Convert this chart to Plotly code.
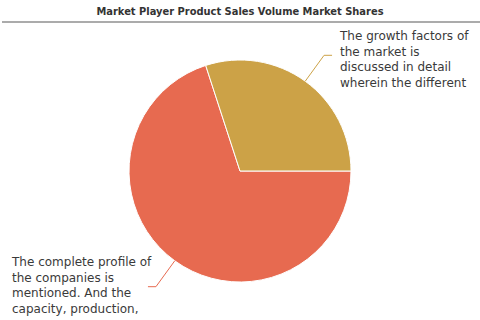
import math
import plotly.graph_objects as go

# Share of sales volume per market player
players = ["Player A", "Player B"]
shares = [70, 30]
colors = ["#e76a50", "#cca247"]
notes = [
    "The complete profile of<br>the companies is<br>mentioned. And the<br>capacity, production,",
    "The growth factors of<br>the market is<br>discussed in detail<br>wherein the different",
]
title_text = "Market Player Product Sales Volume Market Shares"

W, H = 480, 320
# pie placement (pixels)
cx, cy, R = 240, 171, 111

fig = go.Figure(go.Pie(
    labels=players,
    values=shares,
    sort=False,
    direction="clockwise",
    rotation=90,
    marker=dict(colors=colors, line=dict(color="white", width=1)),
    textinfo="none",
    hoverinfo="label+percent",
    domain=dict(x=[0, 1], y=[(H - cy - R) / H, (H - cy + R) / H]),
    showlegend=False,
))


def px_to_paper(x, y):
    return x / W, 1 - y / H


shapes = [dict(type="line", xref="paper", yref="paper",
               x0=2 / W, x1=1, y0=1 - 22 / H, y1=1 - 22 / H,
               line=dict(color="#8f8f8f", width=1.5))]
annotations = []

# label blocks: left edge and top (pixels)
label_pos = [(9, 253), (337, 27)]

total = sum(shares)
start = 90.0
for val, col, note, (lx, ly) in zip(shares, colors, notes, label_pos):
    sweep = 360.0 * val / total
    mid = math.radians(start + sweep / 2)
    start += sweep
    ux, uy = math.sin(mid), -math.cos(mid)
    ex, ey = cx + R * ux, cy + R * uy
    kx, ky = ex + 32 * ux, ey + 32 * uy
    side = 1 if ux >= 0 else -1
    hx = kx + 8 * side
    p = [px_to_paper(*pt) for pt in [(ex, ey), (kx, ky), (hx, ky)]]
    path = "M{},{} L{},{} L{},{}".format(p[0][0], p[0][1], p[1][0], p[1][1], p[2][0], p[2][1])
    shapes.append(dict(type="path", xref="paper", yref="paper", path=path,
                       line=dict(color=col, width=1)))
    ax, ay = px_to_paper(lx, ly)
    annotations.append(dict(
        text=note, xref="paper", yref="paper", x=ax, y=ay,
        xanchor="left", yanchor="top", align="left", showarrow=False,
        font=dict(family="DejaVu Sans", size=12, color="#3a3a3a"),
    ))

fig.update_layout(
    width=W, height=H,
    margin=dict(l=0, r=0, t=0, b=0),
    paper_bgcolor="white",
    title=dict(text=title_text, x=0.5, xanchor="center", y=1 - 11 / H,
               yanchor="middle", yref="container",
               font=dict(family="DejaVu Sans Condensed, DejaVu Sans", size=11,
                         weight="bold", color="#333333")),
    shapes=shapes,
    annotations=annotations,
)

fig.write_html("out.html")
